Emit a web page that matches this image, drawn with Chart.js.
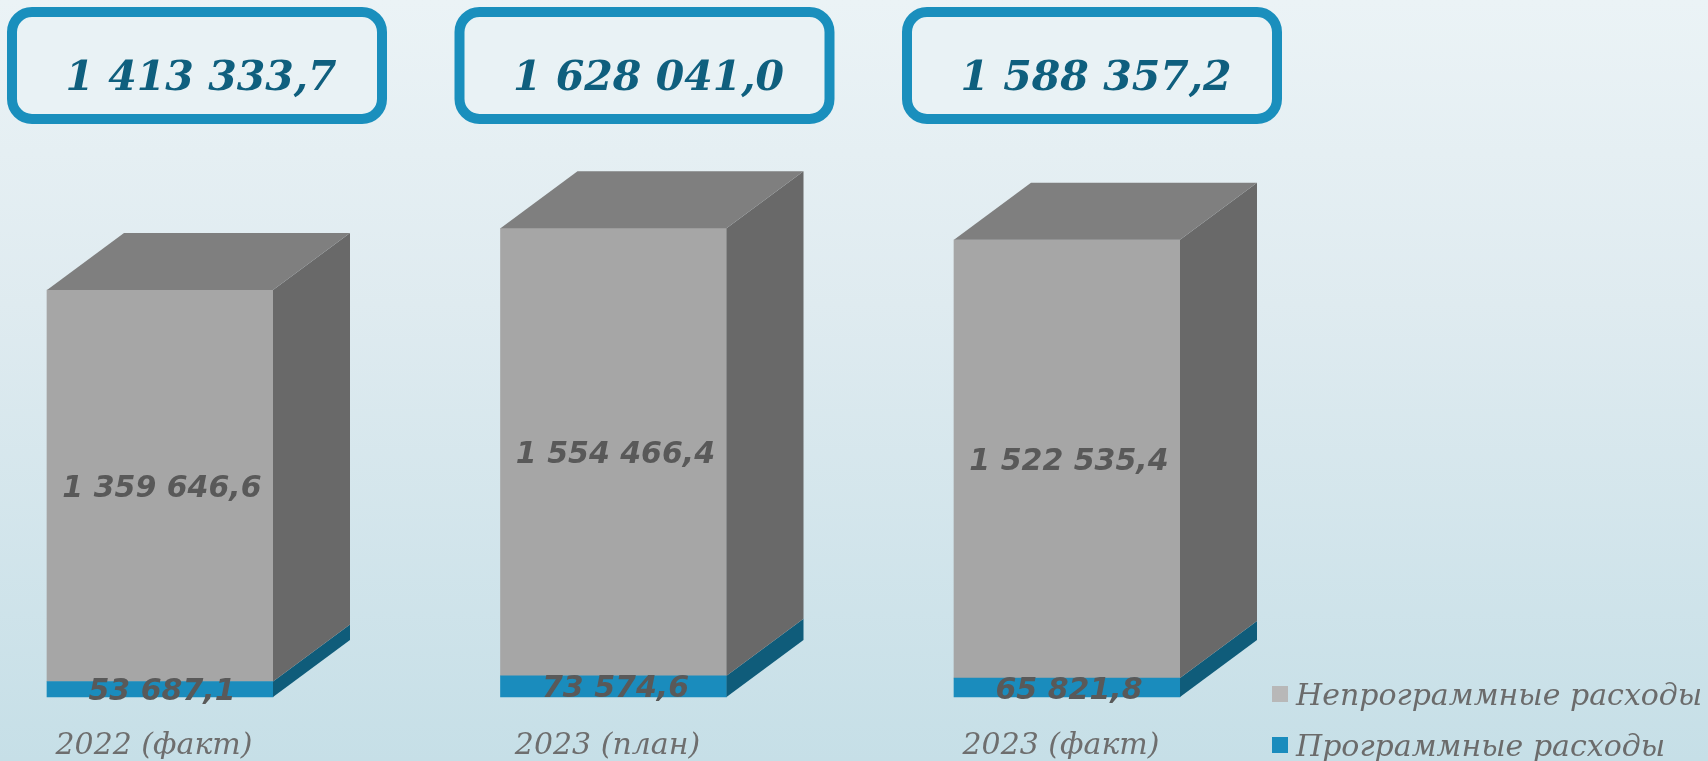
<!DOCTYPE html>
<html lang="ru">
<head>
<meta charset="utf-8">
<title>Расходы бюджета</title>
<script src="https://cdn.jsdelivr.net/npm/chart.js@4.4.1/dist/chart.umd.min.js"></script>
<style>
  html, body { margin: 0; padding: 0; }
  body {
    width: 1708px; height: 761px; overflow: hidden;
    background: linear-gradient(to bottom, #ebf3f6 0%, #dfebf0 40%, #c6dfe7 100%);
  }
  canvas { display: block; }
</style>
</head>
<body>
<canvas id="budgetChart" width="1708" height="761"></canvas>
<script>
// Расходы по годам, тыс. руб.
const years = ["2022 (факт)", "2023 (план)", "2023 (факт)"];
const programExpenses = [53687.1, 73574.6, 65821.8];
const nonProgramExpenses = [1359646.6, 1554466.4, 1522535.4];

// смещение задней грани "кубика"
const DX = 77, DY = 57;

// 1413333.7 -> "1 413 333,7"
function fmt(v) {
  const parts = v.toFixed(1).split(".");
  return parts[0].replace(/\B(?=(\d{3})+(?!\d))/g, " ") + "," + parts[1];
}

function poly(ctx, pts, color) {
  ctx.beginPath();
  ctx.moveTo(pts[0][0], pts[0][1]);
  for (let i = 1; i < pts.length; i++) ctx.lineTo(pts[i][0], pts[i][1]);
  ctx.closePath();
  ctx.fillStyle = color;
  ctx.fill();
}

// боковые и верхние грани столбцов
const cubePlugin = {
  id: "cube3d",
  afterDatasetsDraw(chart) {
    const ctx = chart.ctx;
    const last = chart.data.datasets.length - 1;
    ctx.save();
    chart.data.datasets.forEach((ds, i) => {
      chart.getDatasetMeta(i).data.forEach(bar => {
        const p = bar.getProps(["x", "y", "base", "width"], true);
        const l = p.x - p.width / 2, r = p.x + p.width / 2;
        poly(ctx, [[r, p.y], [r + DX, p.y - DY], [r + DX, p.base - DY], [r, p.base]], ds.sideColor);
        if (i === last) {
          poly(ctx, [[l, p.y], [l + DX, p.y - DY], [r + DX, p.y - DY], [r, p.y]], ds.topColor);
        }
      });
    });
    ctx.restore();
  }
};

// подписи значений, итоги в рамках и легенда
const labelPlugin = {
  id: "labels",
  afterDraw(chart) {
    const ctx = chart.ctx;
    ctx.save();

    // значения внутри столбцов
    ctx.font = "italic bold 30px 'DejaVu Sans'";
    ctx.fillStyle = "#595959";
    ctx.textAlign = "center";
    ctx.textBaseline = "alphabetic";
    chart.data.datasets.forEach((ds, i) => {
      chart.getDatasetMeta(i).data.forEach((bar, j) => {
        const p = bar.getProps(["x", "y", "base"], true);
        ctx.fillText(fmt(ds.data[j]), p.x + 2, (p.y + p.base) / 2 + 11);
      });
    });

    // итоговые суммы в рамках, рамки идут с шагом 447.5
    const x0 = chart.scales.x.getPixelForValue(0) + 37;
    years.forEach((y, j) => {
      const total = programExpenses[j] + nonProgramExpenses[j];
      const cx = x0 + j * 447.5;
      const w = 370, h = 107, top = 12, rad = 20;
      ctx.beginPath();
      ctx.roundRect(cx - w / 2, top, w, h, rad);
      ctx.fillStyle = "#e9f2f5";
      ctx.fill();
      ctx.lineWidth = 10;
      ctx.strokeStyle = "#1a8fbd";
      ctx.stroke();
      ctx.font = "italic bold 41px 'DejaVu Serif'";
      ctx.fillStyle = "#0f5f7e";
      ctx.fillText(fmt(total), cx + 4, 90);
    });

    // легенда
    const items = [
      { text: chart.data.datasets[1].label, color: "#b8b8b8", y: 705 },
      { text: chart.data.datasets[0].label, color: "#1a8cbd", y: 756 }
    ];
    ctx.textAlign = "left";
    ctx.font = "italic 30px 'DejaVu Serif'";
    items.forEach(it => {
      ctx.fillStyle = it.color;
      ctx.fillRect(1272, it.y - 19, 16, 16);
      ctx.fillStyle = "#6b6b6b";
      ctx.fillText(it.text, 1296, it.y);
    });

    ctx.restore();
  }
};

new Chart(document.getElementById("budgetChart"), {
  type: "bar",
  data: {
    labels: years,
    datasets: [
      {
        label: "Программные расходы",
        data: programExpenses,
        backgroundColor: "#1a8cbd",
        sideColor: "#0f5c7a",
        clip: false
      },
      {
        label: "Непрограммные расходы",
        data: nonProgramExpenses,
        backgroundColor: "#a6a6a6",
        sideColor: "#696969",
        topColor: "#7f7f7f",
        clip: false
      }
    ]
  },
  options: {
    responsive: false,
    animation: false,
    barThickness: 226,
    layout: { padding: { left: 160, right: 641, top: 150, bottom: 2 } },
    plugins: {
      legend: { display: false },
      tooltip: { enabled: false }
    },
    scales: {
      x: {
        stacked: true,
        offset: false,
        grid: { display: false, drawTicks: false },
        border: { display: false },
        afterFit(scale) { scale.height = 62; },
        ticks: {
          padding: 31,
          labelOffset: -6,
          maxRotation: 0,
          color: "#6e6e6e",
          font: { family: "DejaVu Serif", style: "italic", size: 30 }
        }
      },
      y: {
        stacked: true,
        display: false,
        min: 0,
        max: 1900000
      }
    }
  },
  plugins: [cubePlugin, labelPlugin]
});
</script>
</body>
</html>
